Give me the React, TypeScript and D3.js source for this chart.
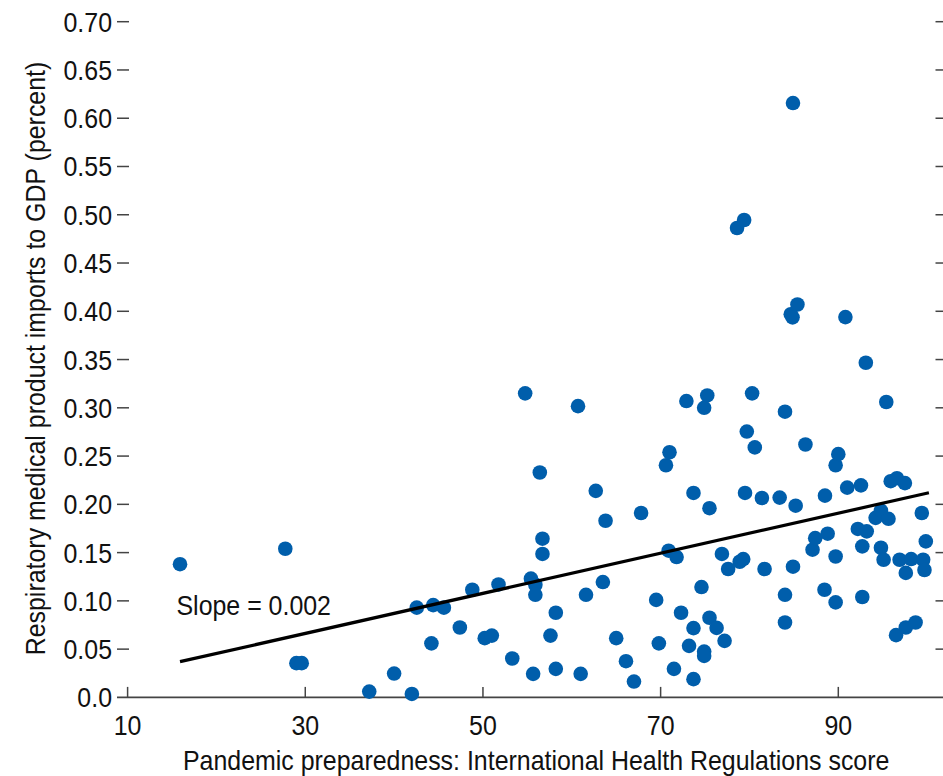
import React from "react";
import * as d3 from "d3";

const xValues: number[] = [
  15.9, 27.75, 29.0, 29.6, 37.2, 40.0, 42.0, 42.55, 44.2, 44.4, 45.6, 47.4, 48.8, 50.2, 51.0, 51.75,
  53.3, 54.75, 55.4, 55.65, 55.9, 55.9, 56.4, 56.7, 56.7, 57.6, 58.2, 58.2, 60.7, 61.0, 61.6, 62.7,
  63.5, 63.8, 65.0, 66.1, 67.0, 67.8, 69.5, 69.8, 70.6, 71.0, 70.9, 71.5, 71.8, 72.3, 72.9, 73.2,
  73.7, 73.7, 73.7, 74.6, 74.9, 75.25, 74.9, 74.9, 75.5, 75.5, 76.3, 76.9, 77.2, 77.6, 78.6, 78.9,
  79.3, 79.4, 79.5, 79.7, 80.3, 80.6, 81.4, 81.7, 83.4, 84.0, 84.0, 84.0, 84.65, 84.85, 84.9, 84.9,
  85.2, 85.4, 86.3, 87.1, 87.4, 88.45, 88.5, 88.8, 89.7, 89.7, 89.7, 90.0, 90.8, 91.0, 92.2, 92.55,
  92.7, 92.7, 93.1, 93.2, 94.2, 94.8, 94.8, 95.1, 95.4, 95.65, 95.9, 96.5, 96.6, 96.9, 97.5, 97.6,
  97.6, 98.2, 98.7, 99.4, 99.55, 99.7, 99.85,
];
const yValues: number[] = [
  0.138, 0.154, 0.0355, 0.0355, 0.006, 0.0247, 0.0036, 0.093, 0.056, 0.0956, 0.093, 0.0724, 0.1115, 0.0614, 0.064, 0.117,
  0.0403, 0.315, 0.123, 0.0244, 0.1167, 0.1063, 0.233, 0.1644, 0.1486, 0.064, 0.0877, 0.0296, 0.3017, 0.0244, 0.1063, 0.214,
  0.1195, 0.183, 0.0614, 0.0375, 0.0164, 0.191, 0.101, 0.056, 0.2405, 0.254, 0.152, 0.0296, 0.1454, 0.0877, 0.307, 0.0534,
  0.2118, 0.0718, 0.0189, 0.1143, 0.3, 0.3128, 0.0475, 0.043, 0.196, 0.0825, 0.072, 0.1486, 0.0586, 0.133, 0.4863, 0.1405,
  0.1433, 0.4946, 0.2118, 0.2754, 0.315, 0.259, 0.2066, 0.133, 0.207, 0.296, 0.1063, 0.0776, 0.397, 0.3937, 0.6157, 0.1354,
  0.1986, 0.407, 0.262, 0.153, 0.165, 0.1115, 0.209, 0.1696, 0.2405, 0.146, 0.0984, 0.252, 0.394, 0.2173, 0.1745, 0.2197,
  0.1565, 0.104, 0.3467, 0.172, 0.186, 0.1935, 0.155, 0.1426, 0.306, 0.185, 0.224, 0.0645, 0.227, 0.1426, 0.222, 0.129,
  0.0724, 0.1433, 0.0776, 0.191, 0.1426, 0.132, 0.1616,
];

const trendX: number[] = [15.9, 100.2];
const trendY: number[] = [0.037, 0.212];

const xTicks: number[] = [10, 30, 50, 70, 90];
const xTickLabels: string[] = ["10", "30", "50", "70", "90"];
const yTicks: number[] = [0, 0.05, 0.1, 0.15, 0.2, 0.25, 0.3, 0.35, 0.4, 0.45, 0.5, 0.55, 0.6, 0.65, 0.7];
const yTickLabels: string[] = [
  "0.0", "0.05", "0.10", "0.15", "0.20", "0.25", "0.30", "0.35", "0.40", "0.45", "0.50", "0.55", "0.60", "0.65", "0.70",
];

const slopeLabel = "Slope = 0.002";
const xTitle = "Pandemic preparedness: International Health Regulations score";
const yTitle = "Respiratory medical product imports to GDP (percent)";

const FONT = "'Liberation Sans', Arial, Helvetica, sans-serif";
const SX = 0.89;
const DOT = "#005EAB";
const INK = "#111";
const AXIS = "#444";

export default function App() {
  const W = 943;
  const H = 776;
  const x = d3.scaleLinear().domain([10, 90]).range([127.6, 838.3]);
  const y = d3.scaleLinear().domain([0, 0.7]).range([697.4, 21.7]);
  const lineGen = d3
    .line<[number, number]>()
    .x((d) => x(d[0]))
    .y((d) => y(d[1]));
  const trend: [number, number][] = trendX.map((v, i) => [v, trendY[i]]);
  const pts = xValues.map((v, i) => ({ x: v, y: yValues[i] }));

  const leftTickX0 = 117;
  const leftTickX1 = 129;
  const rightAxisX = 946;
  const tickLen = 10.5;

  return (
    <svg
      width={W}
      height={H}
      style={{ position: "absolute", left: 0, top: 0, background: "#fff" }}
      fontFamily={FONT}
    >
      <rect x={0} y={0} width={W} height={H} fill="#fff" />
      {/* left ticks and labels */}
      {yTicks.map((t, i) => (
        <g key={"yl" + i}>
          {i > 0 && (
            <line x1={leftTickX0} x2={leftTickX1} y1={y(t)} y2={y(t)} stroke={AXIS} strokeWidth={1.5} />
          )}
          <text
            transform={`translate(112,${y(t) + 10}) scale(${SX},1)`}
            textAnchor="end"
            fontSize={28}
            fill={INK}
          >
            {yTickLabels[i]}
          </text>
        </g>
      ))}
      {/* right ticks */}
      {yTicks.slice(1).map((t, i) => (
        <line
          key={"yr" + i}
          x1={rightAxisX - tickLen}
          x2={rightAxisX}
          y1={y(t)}
          y2={y(t)}
          stroke={AXIS}
          strokeWidth={1.5}
        />
      ))}
      {/* bottom axis */}
      <line x1={117} x2={W} y1={y(0)} y2={y(0)} stroke={AXIS} strokeWidth={1.6} />
      {xTicks.map((t, i) => (
        <g key={"xt" + i}>
          <line x1={x(t)} x2={x(t)} y1={y(0)} y2={y(0) - tickLen} stroke={AXIS} strokeWidth={1.5} />
          <text
            transform={`translate(${x(t)},735) scale(${SX},1)`}
            textAnchor="middle"
            fontSize={28}
            fill={INK}
          >
            {xTickLabels[i]}
          </text>
        </g>
      ))}
      {/* points */}
      {pts.map((p, i) => (
        <circle key={"p" + i} cx={x(p.x)} cy={y(p.y)} r={7.3} fill={DOT} />
      ))}
      {/* trend line */}
      <path d={lineGen(trend) || ""} fill="none" stroke="#000" strokeWidth={3.2} />
      <text transform={`translate(176.5,615) scale(${SX},1)`} fontSize={28} fill={INK}>
        {slopeLabel}
      </text>
      {/* axis titles */}
      <text transform={`translate(183,770) scale(${SX},1)`} fontSize={28} fill={INK}>
        {xTitle}
      </text>
      <text
        transform={`translate(45,358.5) rotate(-90) scale(${SX},1)`}
        textAnchor="middle"
        fontSize={28}
        fill={INK}
      >
        {yTitle}
      </text>
    </svg>
  );
}
